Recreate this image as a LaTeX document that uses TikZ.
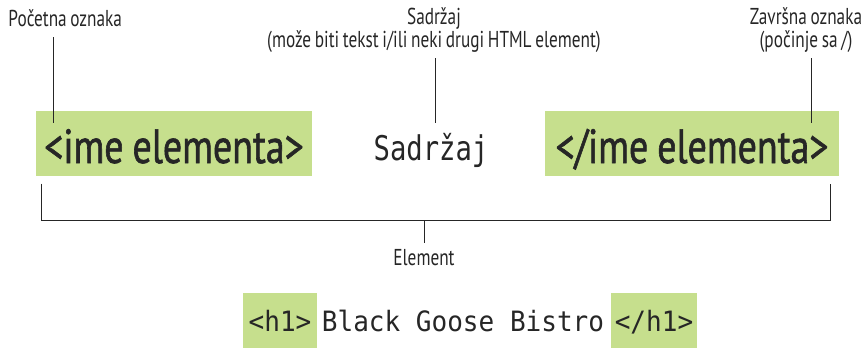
\documentclass[tikz,border=0pt]{standalone}
\usepackage{fontspec}
\setmainfont{PT Sans}[FakeStretch=0.75, WordSpace=0.8]
\newfontfamily\bigsans{PT Sans}[FakeStretch=0.79, FakeBold=1.2]
\newfontfamily\monoa{DejaVu Sans Mono}[FakeStretch=0.8]
\newfontfamily\monob{DejaVu Sans Mono}[FakeStretch=0.93]
\definecolor{tagbg}{HTML}{C6DF8D}
\newcommand{\malirazmak}{\hspace{9pt}}

\begin{document}
\begin{tikzpicture}[x=1pt, y=-1pt, every path/.style={line width=1pt, black!85},
  lbl/.style={align=center, inner sep=0pt, font=\fontsize{23}{23.5}\selectfont},
  bigtag/.style={fill=tagbg, inner sep=0pt, align=center, text height=52pt, text depth=13pt, font=\fontsize{48}{48}\bigsans},
  smalltag/.style={fill=tagbg, inner sep=0pt, align=center, text height=38pt, text depth=17pt, font=\fontsize{28}{28}\monob}]
\useasboundingbox (0,0) rectangle (867,348);

\node[bigtag, text width=276pt, anchor=base] (tag1) at (174,163) {<ime\malirazmak elementa>};
\node[bigtag, text width=294pt, anchor=base] (tag2) at (692,163) {</ime\malirazmak elementa>};
\node[inner sep=0pt, anchor=base, font=\fontsize{34}{34}\monoa] (sad) at (431,160) {Sadržaj};

\node[lbl, anchor=base west] (lbl1) at (8,27) {Početna oznaka};
\node[lbl, anchor=north] (lbl2) at (434,7) {Sadržaj\\(može biti tekst i/ili neki drugi HTML element)};
\node[lbl, anchor=north] (lbl3) at (806,7) {Završna oznaka\\(počinje sa /)};
\node[lbl, anchor=base] (elem) at (424,265) {Element};

\node[smalltag, text width=74pt, anchor=base] (h1a) at (280,331) {<h1>};
\node[inner sep=0pt, anchor=base, font=\fontsize{28}{28}\monob] (naslov) at (463,331) {Black Goose Bistro};
\node[smalltag, text width=86pt, anchor=base] (h1b) at (654,331) {</h1>};

% pokazivaci
\coordinate (c1) at (53,123);
\coordinate (c2) at (435,123);
\coordinate (c3) at (811,123);
\draw ([yshift=-10pt]lbl1.base -| c1) -- (c1);
\draw ([yshift=-5pt]lbl2.south -| c2) -- (c2);
\draw ([yshift=-5pt]lbl3.south -| c3) -- (c3);

% zagrada
\coordinate (b1) at ([xshift=6pt, yshift=-7pt]tag1.south west);
\coordinate (b3) at ([xshift=-9pt, yshift=-7pt]tag2.south east);
\coordinate (b2) at (424,220);
\draw (b1) -- (b1 |- b2) -- (b3 |- b2) -- (b3);
\draw (b2) -- ([yshift=5pt]elem.north);
\end{tikzpicture}
\end{document}
